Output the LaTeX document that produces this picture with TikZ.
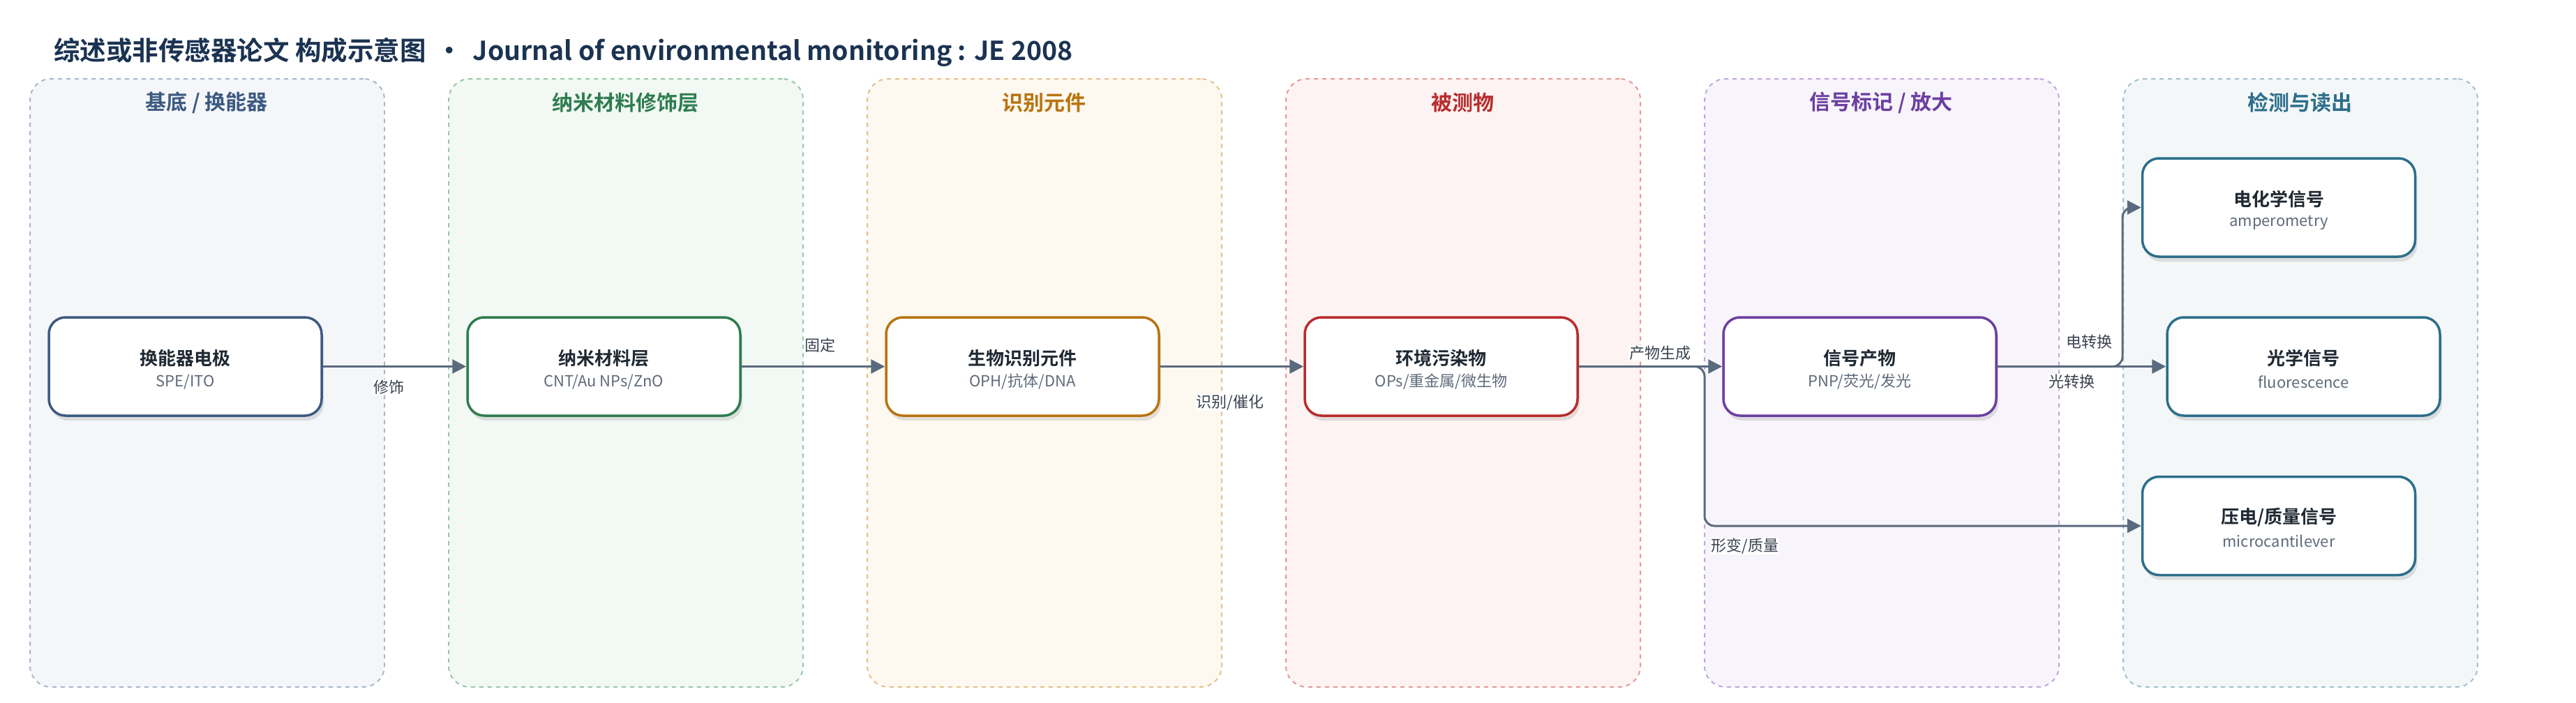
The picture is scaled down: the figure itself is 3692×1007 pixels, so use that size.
\documentclass[tikz,border=0pt]{standalone}
\usepackage{fontspec}
\setmainfont{Noto Sans CJK SC}[BoldFont={* Bold}]
\usetikzlibrary{shadows,calc,arrows.meta}
\definecolor{ttl}{HTML}{1B3352}
\definecolor{c1}{HTML}{3D5A80}\definecolor{d1}{HTML}{A9B7CB}\definecolor{f1}{HTML}{F4F6FA}
\definecolor{c2}{HTML}{2E7D4F}\definecolor{d2}{HTML}{97C8A8}\definecolor{f2}{HTML}{F2F8F4}
\definecolor{c3}{HTML}{B8740F}\definecolor{d3}{HTML}{E5C08A}\definecolor{f3}{HTML}{FDF8F0}
\definecolor{c4}{HTML}{B82C2C}\definecolor{d4}{HTML}{E39A9A}\definecolor{f4}{HTML}{FDF3F2}
\definecolor{c5}{HTML}{6B3FA0}\definecolor{d5}{HTML}{BFA6DC}\definecolor{f5}{HTML}{F7F4FB}
\definecolor{c6}{HTML}{2C6E8A}\definecolor{d6}{HTML}{9FC1CE}\definecolor{f6}{HTML}{F3F7F8}
\definecolor{arrc}{HTML}{5A6A7E}
\definecolor{boxtxt}{HTML}{1F2933}
\definecolor{subtxt}{HTML}{5F6B7A}
\definecolor{lbltxt}{HTML}{3A4250}
\newcommand\mkbox[6]{%
  \node[boxst=#4] (#1) at (#2,#3) {};
  \node[btitle] (#1t) at ($(#1.center)+(0,-12)$) {#5};
  \node[bsub] (#1s) at ($(#1.center)+(0,22)$) {#6};
}
\begin{document}
\begin{tikzpicture}[x=1pt,y=-1pt,
  panel/.style n args={2}{draw=#1, fill=#2, dash pattern=on 6pt off 6pt, line width=2pt,
    rounded corners=30pt, minimum width=508pt, minimum height=872pt, anchor=north west,
    inner sep=0pt},
  ptitle/.style={font=\fontsize{30}{34}\selectfont\bfseries, text=#1},
  boxst/.style={draw=#1, fill=white, line width=3.5pt, rounded corners=24pt,
    minimum width=391pt, minimum height=141pt, inner sep=0pt,
    drop shadow={shadow xshift=3pt, shadow yshift=-7pt, opacity=0.15, fill=black!70}},
  btitle/.style={font=\fontsize{26}{30}\selectfont\bfseries, text=boxtxt},
  bsub/.style={font=\fontsize{22}{26}\selectfont, text=subtxt},
  arr/.style={draw=arrc, line width=3pt, -{Triangle[length=20pt,width=20pt]}},
  lbl/.style={font=\fontsize{22}{26}\selectfont, text=lbltxt, fill=white, inner sep=1pt}
]
\useasboundingbox[fill=white] (0,0) rectangle (3692,1007);

% title
\node[anchor=west, font=\fontsize{37.5}{44}\selectfont\bfseries, text=ttl, inner sep=0pt] (title) at (77,75)
  {综述或非传感器论文 构成示意图 \,•\, Journal of environmental monitoring : JE 2008};

% panels
\node[panel={d1}{f1}] (p1) at (42,112) {};
\node[panel={d2}{f2}] (p2) at (642,112) {};
\node[panel={d3}{f3}] (p3) at (1242,112) {};
\node[panel={d4}{f4}] (p4) at (1842,112) {};
\node[panel={d5}{f5}] (p5) at (2442,112) {};
\node[panel={d6}{f6}] (p6) at (3042,112) {};

\node[ptitle=c1] (pt1) at (296,147) {基底 / 换能器};
\node[ptitle=c2] (pt2) at (896,147) {纳米材料修饰层};
\node[ptitle=c3] (pt3) at (1496,147) {识别元件};
\node[ptitle=c4] (pt4) at (2096,147) {被测物};
\node[ptitle=c5] (pt5) at (2696,147) {信号标记 / 放大};
\node[ptitle=c6] (pt6) at (3296,147) {检测与读出};

% boxes
\mkbox{b1}{265.5}{525.5}{c1}{换能器电极}{SPE/ITO}
\mkbox{b2}{865.5}{525.5}{c2}{纳米材料层}{CNT/Au NPs/ZnO}
\mkbox{b3}{1465.5}{525.5}{c3}{生物识别元件}{OPH/抗体/DNA}
\mkbox{b4}{2065.5}{525.5}{c4}{环境污染物}{OPs/重金属/微生物}
\mkbox{b5}{2665.5}{525.5}{c5}{信号产物}{PNP/荧光/发光}
\mkbox{b6a}{3266}{297.5}{c6}{电化学信号}{amperometry}
\mkbox{b6b}{3301.5}{525.5}{c6}{光学信号}{fluorescence}
\mkbox{b6c}{3266}{754}{c6}{压电/质量信号}{microcantilever}

% connectors
\coordinate (j1) at (2443,525.5);
\coordinate (j2) at (3042,525.5);
\draw[arr] (b1.east) -- (b2.west);
\draw[arr] (b2.east) -- (b3.west);
\draw[arr] (b3.east) -- (b4.west);
\draw[arr] (b4.east) -- (b5.west);
\draw[arr, rounded corners=14pt] (b4.east) -- (j1) |- (b6c.west);
\draw[arr, rounded corners=14pt] (b5.east) -- (j2) |- (b6a.west);
\draw[arr] (b5.east) -- (b6b.west);

% labels
\node[lbl] (l1) at (557,555) {修饰};
\node[lbl] (l2) at (1175,495) {固定};
\node[lbl] (l3) at (1763,577) {识别/催化};
\node[lbl] (l4) at (2379,506) {产物生成};
\node[lbl] (l5) at (2501,783) {形变/质量};
\node[lbl] (l6) at (2994,490) {电转换};
\node[lbl] (l7) at (2969,547) {光转换};
\end{tikzpicture}
\end{document}
